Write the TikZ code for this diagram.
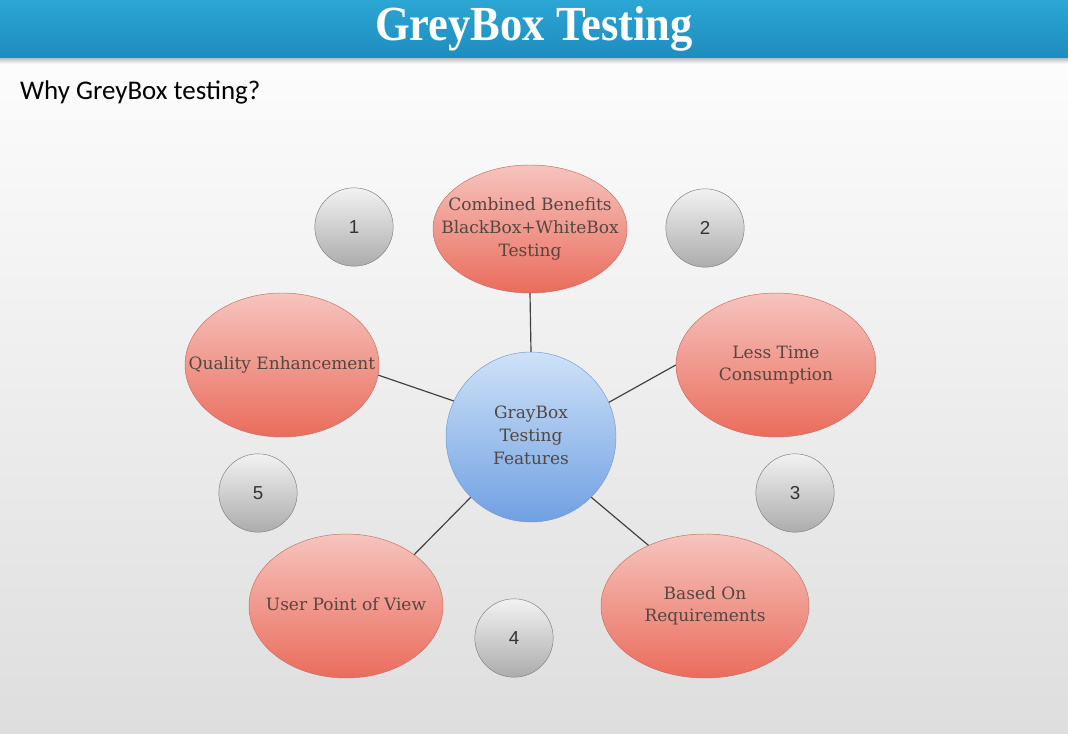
\documentclass[tikz,border=0pt]{standalone}
\usepackage{fontspec}
\usepackage{xcolor}
\usepackage{tikz}
\usetikzlibrary{shapes.geometric, positioning, calc}
\setmainfont{DejaVu Serif}
\newfontfamily\titlefont{Liberation Serif}
\newfontfamily\slidefont{Carlito}
\newfontfamily\numfont{Liberation Sans}

\definecolor{barblue}{RGB}{44,166,212}
\definecolor{bardark}{RGB}{30,140,190}
\definecolor{redtop}{RGB}{246,196,190}
\definecolor{redbot}{RGB}{234,108,92}
\definecolor{redline}{RGB}{196,112,100}
\definecolor{bluetop}{RGB}{206,226,248}
\definecolor{bluebot}{RGB}{112,160,226}
\definecolor{blueline}{RGB}{120,152,204}
\definecolor{greytop}{RGB}{242,242,242}
\definecolor{greybot}{RGB}{172,172,172}
\definecolor{greyline}{RGB}{128,128,128}
\definecolor{txtgrey}{RGB}{84,70,64}

% text that does not widen its shape
\newcommand{\shapetext}[1]{\makebox[0pt]{\begin{tabular}{@{}c@{}}#1\end{tabular}}}

\begin{document}
\begin{tikzpicture}[x=0.03cm, y=-0.03cm,
  feature/.style={ellipse, draw=redline, top color=redtop, bottom color=redbot,
    inner sep=0pt, text=txtgrey, font=\fontsize{14.5}{19.5}\selectfont},
  hub/.style={circle, draw=blueline, top color=bluetop, bottom color=bluebot,
    minimum size=5.1cm, inner sep=0pt, text=txtgrey,
    font=\fontsize{14.5}{19.5}\selectfont},
  badge/.style={circle, draw=greyline, top color=greytop, bottom color=greybot,
    minimum size=2.35cm, inner sep=0pt, text=black!80, font=\numfont\fontsize{16}{18}\selectfont},
  spoke/.style={draw=black!75, line width=1pt}]

% Slide background
\shade[top color=white, bottom color=black!13] (0,0) rectangle (1068,734);
\useasboundingbox (0,0) rectangle (1068,734);
\shade[top color=black!35, bottom color=black!0] (0,56) rectangle (1068,64);
\shade[top color=barblue, bottom color=bardark] (0,0) rectangle (1068,58);
\node[font=\titlefont\bfseries\fontsize{38}{40}\selectfont, text=white, yscale=1.1] (title) at (534,29) {GreyBox Testing};
\node[anchor=west, font=\slidefont\fontsize{23}{26}\selectfont] (why) at (16,92) {Why GreyBox testing?};

% Centre and features
\node[hub] (centre) at (531,437) {\shapetext{GrayBox\\Testing\\ Features}};
\node[feature, minimum width=5.82cm, minimum height=3.84cm] (combined) at (530,229) {\shapetext{Combined Benefits\\BlackBox+WhiteBox\\Testing}};
\node[feature, minimum width=6.0cm, minimum height=4.32cm] (lesstime) at (776,365) {\shapetext{Less Time\\Consumption}};
\node[feature, minimum width=6.24cm, minimum height=4.32cm] (requirements) at (705,606) {\shapetext{Based On\\Requirements}};
\node[feature, minimum width=5.82cm, minimum height=4.32cm] (userview) at (346,606) {\shapetext{User Point of View}};
\node[feature, minimum width=5.82cm, minimum height=4.32cm] (quality) at (282,365) {\shapetext{Quality Enhancement}};

% Numbers
\node[badge] (one) at (354,227) {1};
\node[badge] (two) at (705,228) {2};
\node[badge] (three) at (795,493) {3};
\node[badge] (four) at (514,638) {4};
\node[badge] (five) at (258,493) {5};

% Spokes
\draw[spoke] (centre.north) -- (combined.south);
\draw[spoke] (centre.24) -- (lesstime.west);
\draw[spoke] (centre.-45) -- (requirements.133);
\draw[spoke] (centre.225) -- (userview.37);
\draw[spoke] (centre.155) -- (quality.-6);

\end{tikzpicture}
\end{document}
